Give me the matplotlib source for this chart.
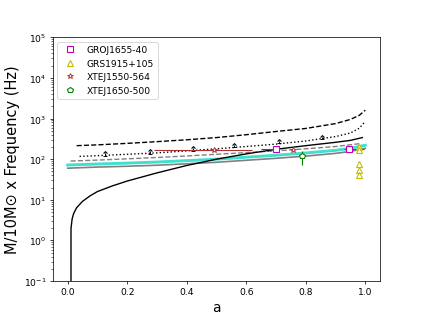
#!/usr/bin/env python3
"""
    Frequency (scaled to 10 solar masses) against spin parameter a,
    with observed QPO sources overplotted.
"""

import matplotlib
matplotlib.use('Agg')
import numpy as np
import matplotlib.pyplot as plt

# model curves
A_SOLID = [0.011, 0.0112, 0.015, 0.02, 0.03, 0.05, 0.075, 0.1, 0.15, 0.2,
           0.3, 0.4, 0.5, 0.6, 0.7, 0.8, 0.9, 0.95, 0.99]
F_SOLID = [0.001, 2.0, 3.4, 4.6, 6.4, 9.2, 12.5, 16, 22, 29,
           46, 70, 100, 135, 175, 215, 260, 290, 340]

A_DASHED = [0.03, 0.1, 0.2, 0.3, 0.4, 0.5, 0.6, 0.7, 0.8, 0.9, 0.95, 0.98, 1.0]
F_DASHED = [215, 225, 245, 270, 300, 340, 400, 480, 570, 750, 950, 1200, 1600]

A_DOTTED = [0.04, 0.1, 0.2, 0.3, 0.4, 0.5, 0.6, 0.7, 0.8, 0.9, 0.95, 0.98, 1.0]
F_DOTTED = [117, 122, 132, 143, 160, 180, 205, 235, 280, 360, 440, 580, 850]

A_GREY_DASHED = [0.01, 0.1, 0.2, 0.3, 0.4, 0.5, 0.6, 0.7, 0.8, 0.9, 0.98]
F_GREY_DASHED = [90, 95, 102, 110, 120, 132, 145, 160, 180, 205, 240]

A_BAND = [0.0, 0.1, 0.2, 0.3, 0.4, 0.5, 0.6, 0.7, 0.8, 0.9, 0.95, 1.0]
F_CYAN = [72, 76, 80, 85, 92, 100, 112, 125, 142, 165, 185, 220]
F_GREY = [60, 64, 67, 71, 77, 84, 94, 105, 119, 139, 155, 185]

# lower limits (arrows) above the dotted curve
A_LIMITS = [0.125, 0.275, 0.42, 0.56, 0.71, 0.855]
F_LIMITS = [120, 135, 162, 195, 245, 305]

# observed sources
GRO_A = [0.70, 0.945]
GRO_F = [174, 174]
GRO_AERR = [[0.05, 0.015], [0.0, 0.05]]

GRS_A = [0.98, 0.98, 0.98, 0.98, 0.98]
GRS_F = [195, 166, 76, 55, 41]

XTE1550_A = [0.49, 0.757]
XTE1550_F = [166, 170]
XTE1550_AERR = [[0.2, 0.0], [0.13, 0.0]]

XTE1650_A = [0.787]
XTE1650_F = [120]
XTE1650_FERR = [[48], [40]]


def main():
    fig = plt.figure(figsize=(6.4, 4.8), dpi=66)
    ax = fig.add_subplot(111)

    ax.plot(A_BAND, F_GREY, '-', color='grey', lw=1.8)
    ax.plot(A_BAND, F_CYAN, '-', color='turquoise', lw=3.2)
    ax.plot(A_GREY_DASHED, F_GREY_DASHED, '--', color='grey', lw=1.5)
    ax.plot(A_SOLID, F_SOLID, 'k-', lw=1.5)
    ax.plot(A_DASHED, F_DASHED, 'k--', lw=1.5)
    ax.plot(A_DOTTED, F_DOTTED, 'k:', lw=1.5)

    ax.errorbar(A_LIMITS, F_LIMITS, yerr=np.array(F_LIMITS) * 0.15,
                lolims=True, fmt='none', ecolor='k', capsize=1.8, lw=1)

    ax.errorbar(GRO_A, GRO_F, xerr=GRO_AERR, fmt='none', ecolor='m', lw=1.2)
    ax.errorbar(XTE1550_A, XTE1550_F, xerr=XTE1550_AERR, fmt='none',
                ecolor='#b03030', lw=1.2)
    ax.errorbar(XTE1650_A, XTE1650_F, yerr=XTE1650_FERR, fmt='none',
                ecolor='g', lw=1.2)

    ax.plot(GRO_A, GRO_F, 's', mec='m', mfc='white', mew=1.2, ms=6,
            label='GROJ1655-40')
    ax.plot(GRS_A, GRS_F, '^', mec='y', mfc='white', mew=1.2, ms=6,
            label='GRS1915+105')
    ax.plot(XTE1550_A, XTE1550_F, '*', mec='#b03030', mfc='white', mew=1.0,
            ms=6, label='XTEJ1550-564')
    ax.plot(XTE1650_A, XTE1650_F, 'p', mec='g', mfc='white', mew=1.2, ms=6,
            label='XTEJ1650-500')

    ax.set_yscale('log')
    ax.set_ylim(1e-1, 1e5)
    ax.set_xlim(-0.05, 1.05)
    ax.set_xlabel('a', fontsize=15)
    ax.set_ylabel('M/10M\u2299 x Frequency (Hz)', fontsize=16)
    ax.legend(loc='upper left')

    fig.savefig('out.png', dpi=66)


if __name__ == '__main__':
    main()
